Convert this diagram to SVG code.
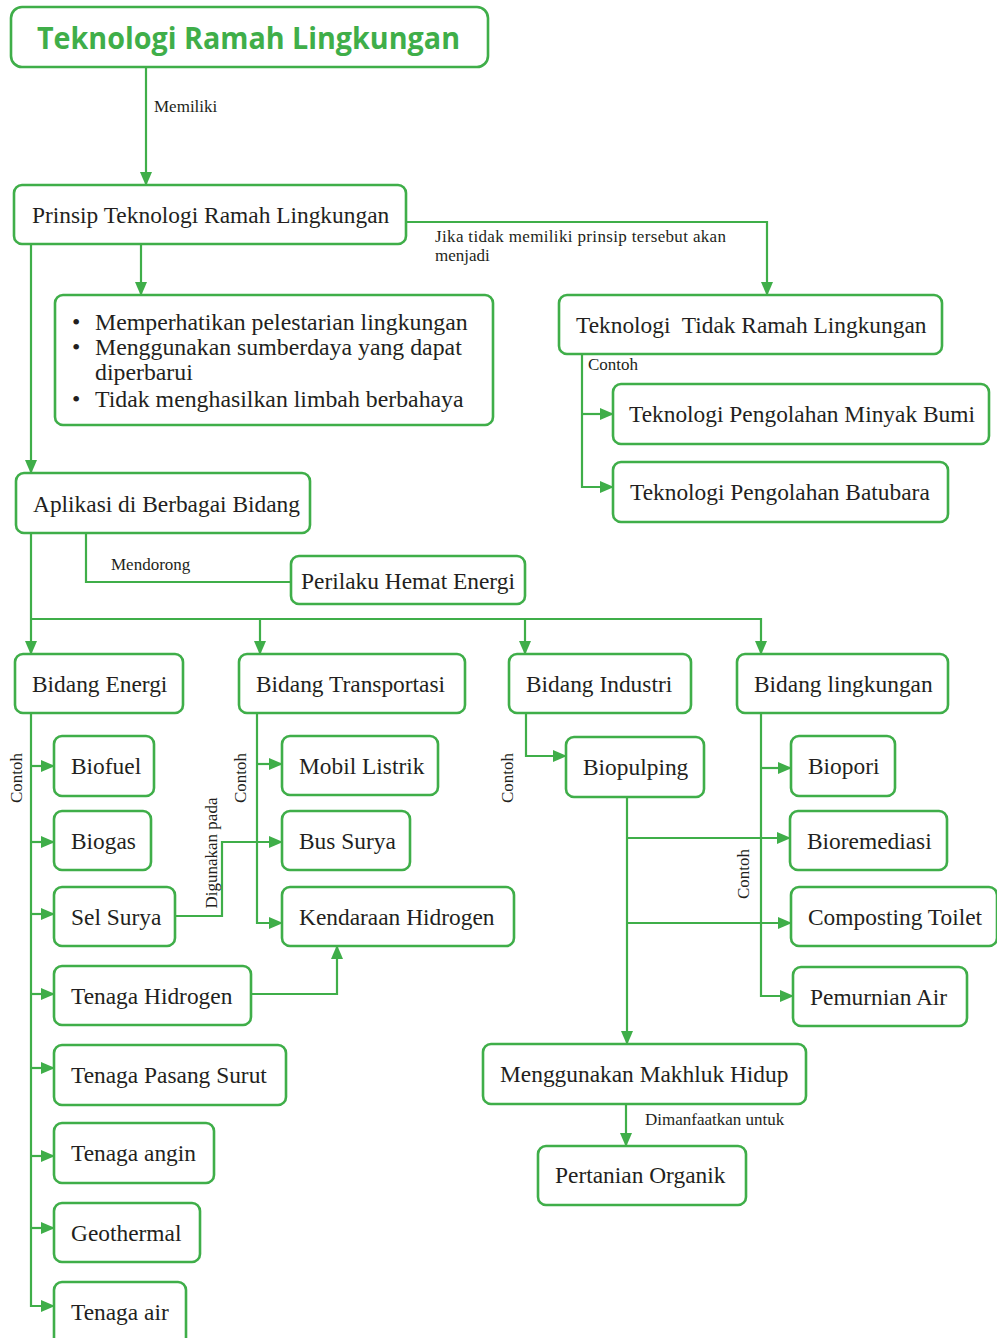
<svg xmlns="http://www.w3.org/2000/svg" width="997" height="1338" viewBox="0 0 997 1338">
<style>
.box{fill:#fff;stroke:#3fae49;stroke-width:2.6}
.t{font-family:"Liberation Serif","Times New Roman",serif;font-size:23.4px;fill:#231f20}
.lb{font-family:"Liberation Serif","Times New Roman",serif;font-size:17px;fill:#231f20}
.c{fill:none;stroke:#3fae49;stroke-width:2.2}
.a{marker-end:url(#ah)}
</style>
<defs>
<marker id="ah" markerUnits="userSpaceOnUse" markerWidth="14" markerHeight="12" refX="13" refY="6" orient="auto">
<path d="M0,0 L14,6 L0,12 Z" fill="#3fae49"/>
</marker>
</defs>
<rect width="997" height="1338" fill="#fff"/>
<g id="connectors">
<path class="c a" d="M146,67 V185"/>
<path class="c a" d="M141,244 V295"/>
<path class="c a" d="M406,222 H767 V295"/>
<path class="c a" d="M582,354 V487 H613"/>
<path class="c a" d="M582,414 H613"/>
<path class="c a" d="M31,244 V473"/>
<path class="c" d="M86,533 V582 H291"/>
<path class="c a" d="M31,533 V654"/>
<path class="c a" d="M31,619 H761 V654"/>
<path class="c a" d="M260,619 V654"/>
<path class="c a" d="M525,619 V654"/>
<path class="c a" d="M31,713 V1306 H54"/>
<path class="c a" d="M31,766 H54"/>
<path class="c a" d="M31,842 H54"/>
<path class="c a" d="M31,914 H54"/>
<path class="c a" d="M31,994 H54"/>
<path class="c a" d="M31,1068 H54"/>
<path class="c a" d="M31,1156 H54"/>
<path class="c a" d="M31,1228 H54"/>
<path class="c a" d="M257,713 V923 H282"/>
<path class="c a" d="M257,764 H282"/>
<path class="c a" d="M175,916 H222 V842 H282"/>
<path class="c a" d="M251,994 H337 V946"/>
<path class="c a" d="M526,713 V756 H566"/>
<path class="c a" d="M627,797 V1044"/>
<path class="c a" d="M627,838 H790"/>
<path class="c a" d="M627,923 H791"/>
<path class="c a" d="M761,713 V996 H793"/>
<path class="c a" d="M761,768 H791"/>
<path class="c a" d="M626,1104 V1146"/>
<text class="lb" x="154" y="112">Memiliki</text>
<text class="lb" x="435" y="242" textLength="291">Jika tidak memiliki prinsip tersebut akan</text>
<text class="lb" x="435" y="261">menjadi</text>
<text class="lb" x="588" y="370">Contoh</text>
<text class="lb" x="111" y="570">Mendorong</text>
<text class="lb" transform="translate(22,778) rotate(-90)" text-anchor="middle">Contoh</text>
<text class="lb" transform="translate(246,778) rotate(-90)" text-anchor="middle">Contoh</text>
<text class="lb" transform="translate(217,853) rotate(-90)" text-anchor="middle">Digunakan pada</text>
<text class="lb" transform="translate(513,778) rotate(-90)" text-anchor="middle">Contoh</text>
<text class="lb" transform="translate(749,874) rotate(-90)" text-anchor="middle">Contoh</text>
<text class="lb" x="645" y="1125">Dimanfaatkan untuk</text>
</g>
<g id="title"><rect class="box" x="11" y="7" width="477" height="60" rx="11"/><text x="37" y="49" font-family="'Open Sans','Noto Sans',sans-serif" font-weight="700" font-size="30" fill="#3fae49" textLength="423" lengthAdjust="spacingAndGlyphs">Teknologi Ramah Lingkungan</text></g>
<g id="prinsip"><rect class="box" x="14" y="185" width="392" height="59" rx="8"/><text class="t" x="32" y="223">Prinsip Teknologi Ramah Lingkungan</text></g>
<g id="bullets"><rect class="box" x="55" y="295" width="438" height="130" rx="8"/>
<text class="t" style="font-size:23.8px" x="72" y="330">•</text><text class="t" style="font-size:23.8px" x="95" y="330">Memperhatikan pelestarian lingkungan</text>
<text class="t" style="font-size:23.8px" x="72" y="355">•</text><text class="t" style="font-size:23.8px" x="95" y="355">Menggunakan sumberdaya yang dapat</text>
<text class="t" style="font-size:23.8px" x="95" y="380">diperbarui</text>
<text class="t" style="font-size:23.8px" x="72" y="407">•</text><text class="t" style="font-size:23.8px" x="95" y="407">Tidak menghasilkan limbah berbahaya</text></g>
<g id="tidak"><rect class="box" x="559" y="295" width="383" height="59" rx="8"/><text class="t" x="576" y="333" xml:space="preserve">Teknologi  Tidak Ramah Lingkungan</text></g>
<g id="minyak"><rect class="box" x="613" y="384" width="376" height="60" rx="8"/><text class="t" x="629" y="422">Teknologi Pengolahan Minyak Bumi</text></g>
<g id="batubara"><rect class="box" x="613" y="462" width="335" height="60" rx="8"/><text class="t" x="630" y="500">Teknologi Pengolahan Batubara</text></g>
<g id="aplikasi"><rect class="box" x="16" y="473" width="294" height="60" rx="8"/><text class="t" x="33" y="512">Aplikasi di Berbagai Bidang</text></g>
<g id="perilaku"><rect class="box" x="291" y="556" width="234" height="48" rx="8"/><text class="t" x="301" y="589">Perilaku Hemat Energi</text></g>
<g id="energi"><rect class="box" x="15" y="654" width="168" height="59" rx="8"/><text class="t" x="32" y="692">Bidang Energi</text></g>
<g id="transportasi"><rect class="box" x="239" y="654" width="226" height="59" rx="8"/><text class="t" x="256" y="692">Bidang Transportasi</text></g>
<g id="industri"><rect class="box" x="509" y="654" width="182" height="59" rx="8"/><text class="t" x="526" y="692">Bidang Industri</text></g>
<g id="lingkungan"><rect class="box" x="737" y="654" width="211" height="59" rx="8"/><text class="t" x="754" y="692">Bidang lingkungan</text></g>
<g id="biofuel"><rect class="box" x="54" y="736" width="100" height="60" rx="8"/><text class="t" x="71" y="774">Biofuel</text></g>
<g id="biogas"><rect class="box" x="54" y="811" width="97" height="59" rx="8"/><text class="t" x="71" y="849">Biogas</text></g>
<g id="selsurya"><rect class="box" x="54" y="887" width="121" height="59" rx="8"/><text class="t" x="71" y="925">Sel Surya</text></g>
<g id="tenagahidrogen"><rect class="box" x="54" y="966" width="197" height="59" rx="8"/><text class="t" x="71" y="1004">Tenaga Hidrogen</text></g>
<g id="pasangsurut"><rect class="box" x="54" y="1045" width="232" height="60" rx="8"/><text class="t" x="71" y="1083">Tenaga Pasang Surut</text></g>
<g id="angin"><rect class="box" x="54" y="1123" width="160" height="60" rx="8"/><text class="t" x="71" y="1161">Tenaga angin</text></g>
<g id="geothermal"><rect class="box" x="54" y="1203" width="146" height="59" rx="8"/><text class="t" x="71" y="1241">Geothermal</text></g>
<g id="tenagaair"><rect class="box" x="54" y="1282" width="132" height="70" rx="8"/><text class="t" x="71" y="1320">Tenaga air</text></g>
<g id="mobil"><rect class="box" x="282" y="736" width="156" height="59" rx="8"/><text class="t" x="299" y="774">Mobil Listrik</text></g>
<g id="bus"><rect class="box" x="282" y="811" width="128" height="59" rx="8"/><text class="t" x="299" y="849">Bus Surya</text></g>
<g id="kendaraan"><rect class="box" x="282" y="887" width="232" height="59" rx="8"/><text class="t" x="299" y="925">Kendaraan Hidrogen</text></g>
<g id="biopulping"><rect class="box" x="566" y="737" width="138" height="60" rx="8"/><text class="t" x="583" y="775">Biopulping</text></g>
<g id="menggunakan"><rect class="box" x="483" y="1044" width="323" height="60" rx="8"/><text class="t" x="500" y="1082">Menggunakan Makhluk Hidup</text></g>
<g id="pertanian"><rect class="box" x="538" y="1146" width="208" height="59" rx="8"/><text class="t" x="555" y="1183">Pertanian Organik</text></g>
<g id="biopori"><rect class="box" x="791" y="736" width="104" height="60" rx="8"/><text class="t" x="808" y="774">Biopori</text></g>
<g id="bioremediasi"><rect class="box" x="790" y="811" width="157" height="59" rx="8"/><text class="t" x="807" y="849">Bioremediasi</text></g>
<g id="composting"><rect class="box" x="791" y="887" width="206" height="59" rx="8"/><text class="t" x="808" y="925">Composting Toilet</text></g>
<g id="pemurnian"><rect class="box" x="793" y="967" width="174" height="59" rx="8"/><text class="t" x="810" y="1005">Pemurnian Air</text></g>
</svg>
